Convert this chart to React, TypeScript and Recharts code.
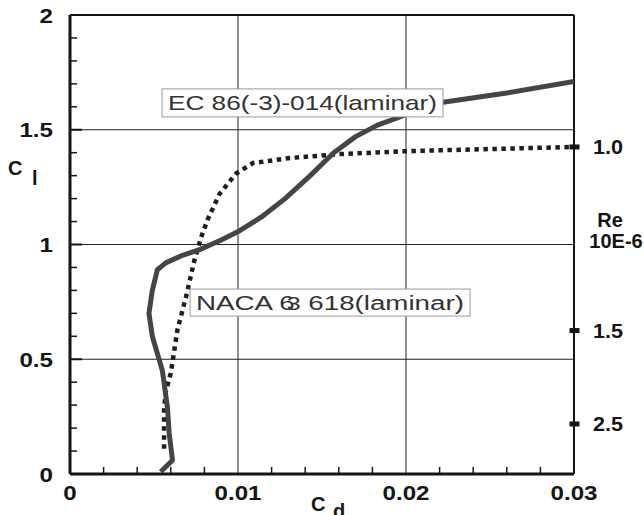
import React from "react";
import {
  ComposedChart,
  Line,
  XAxis,
  YAxis,
  ReferenceLine,
  ReferenceDot,
} from "recharts";

// EC 86(-3)-014 (solid)
const ecCd = [0.0054, 0.0061, 0.0059, 0.0058, 0.0055, 0.0049, 0.0047, 0.0049, 0.0052, 0.0057, 0.0066, 0.0078, 0.009, 0.0101, 0.0114, 0.0128, 0.0143, 0.0157, 0.017, 0.0183, 0.0198, 0.0222, 0.026, 0.03];
const ecCl = [0.01, 0.06, 0.18, 0.29, 0.45, 0.6, 0.7, 0.8, 0.89, 0.92, 0.95, 0.98, 1.02, 1.06, 1.12, 1.2, 1.3, 1.4, 1.47, 1.52, 1.56, 1.62, 1.66, 1.71];

// NACA 63-618 (dotted)
const nacaCd = [0.0056, 0.0056, 0.0056, 0.0057, 0.006, 0.0064, 0.0069, 0.0074, 0.0078, 0.0082, 0.0089, 0.0099, 0.0109, 0.0131, 0.0161, 0.0201, 0.03];
const nacaCl = [0.11, 0.2, 0.28, 0.36, 0.44, 0.63, 0.77, 0.93, 1.03, 1.11, 1.22, 1.31, 1.355, 1.377, 1.394, 1.407, 1.425];

const cdTicks = [0, 0.002, 0.004, 0.006, 0.008, 0.01, 0.012, 0.014, 0.016, 0.018, 0.02, 0.022, 0.024, 0.026, 0.028, 0.03];
const cdMajor = [0, 0.01, 0.02, 0.03];
const cdLabels = ["0", "0.01", "0.02", "0.03"];
const clTicks = [0, 0.1, 0.2, 0.3, 0.4, 0.5, 0.6, 0.7, 0.8, 0.9, 1, 1.1, 1.2, 1.3, 1.4, 1.5, 1.6, 1.7, 1.8, 1.9, 2];
const clMajor = [0, 0.5, 1, 1.5, 2];
const clLabels = ["0", "0.5", "1", "1.5", "2"];
// Reynolds number marks on the right edge (Cl where each curve is read)
const reCl = [1.425, 0.625, 0.218];
const reLabels = ["1.0", "1.5", "2.5"];

const ecData = ecCd.map((cd, i) => ({ cd, cl: ecCl[i] }));
const nacaData = nacaCd.map((cd, i) => ({ cd, cl: nacaCl[i] }));

const FONT = "'Liberation Sans', Arial, sans-serif";
const INK = "#151515";

const majorIndex = (arr: number[], v: number) =>
  arr.findIndex((m) => Math.abs(m - v) < 1e-9);

const BottomTick = (p: any) => {
  const i = majorIndex(cdMajor, p.payload.value);
  return (
    <g>
      {i < 0 && <line x1={p.x} x2={p.x} y1={p.y} y2={p.y - 7} stroke={INK} strokeWidth={1.5} />}
      {i >= 0 && (
        <g transform={`translate(${p.x},${p.y + 26}) scale(1.15,1)`}>
          <text textAnchor="middle" fontFamily={FONT} fontWeight="bold" fontSize={21} fill={INK}>
            {cdLabels[i]}
          </text>
        </g>
      )}
    </g>
  );
};

const LeftTick = (p: any) => {
  const i = majorIndex(clMajor, p.payload.value);
  return (
    <g>
      {i < 0 && <line x1={p.x} x2={p.x + 7} y1={p.y} y2={p.y} stroke={INK} strokeWidth={1.5} />}
      {i >= 0 && <line x1={p.x} x2={p.x + 12} y1={p.y} y2={p.y} stroke={INK} strokeWidth={2} />}
      {i >= 0 && (
        <g transform={`translate(${p.x - 17},${p.y + 7.5}) scale(1.15,1)`}>
          <text textAnchor="end" fontFamily={FONT} fontWeight="bold" fontSize={21} fill={INK}>
            {clLabels[i]}
          </text>
        </g>
      )}
    </g>
  );
};

const ReMark = (p: any) => (
  <rect x={p.cx - 4.5} y={p.cy - 2.5} width={10} height={5} fill={INK} />
);

const ReLabel = ({ viewBox, text }: any) => {
  const cx = viewBox.x + viewBox.width / 2;
  const cy = viewBox.y + viewBox.height / 2;
  return (
    <g transform={`translate(${cx + 19},${cy + 7.5}) scale(1.08,1)`}>
      <text fontFamily={FONT} fontWeight="bold" fontSize={20} fill={INK}>
        {text}
      </text>
    </g>
  );
};

const ReTitle = ({ viewBox }: any) => {
  const cx = viewBox.x + viewBox.width / 2;
  const cy = viewBox.y + viewBox.height / 2;
  return (
    <g fontFamily={FONT} fontWeight="bold" fill={INK} textAnchor="middle" fontSize={20}>
      <text x={cx + 36} y={cy - 18}>Re</text>
      <text x={cx + 42} y={cy + 3}>10E-6</text>
    </g>
  );
};

const BoxLabel = ({ viewBox, text, w, h }: any) => {
  const cx = viewBox.x + viewBox.width / 2;
  const cy = viewBox.y + viewBox.height / 2;
  return (
    <g>
      <rect x={cx - w / 2} y={cy - h / 2} width={w} height={h} fill="#fff" stroke="#9a9a9a" strokeWidth={1} />
      <text
        x={cx - w / 2 + 6}
        y={cy + 7.5}
        textLength={w - 12}
        lengthAdjust="spacingAndGlyphs"
        fontFamily={FONT}
        fontSize={21}
        fill="#333"
      >
        {text}
      </text>
    </g>
  );
};

const NacaLabel = ({ viewBox, w, h }: any) => {
  const cx = viewBox.x + viewBox.width / 2;
  const cy = viewBox.y + viewBox.height / 2;
  return (
    <g>
      <rect x={cx - w / 2} y={cy - h / 2} width={w} height={h} fill="#fff" stroke="#9a9a9a" strokeWidth={1} />
      <g transform={`translate(${cx - w / 2 + 6},${cy + 7.5}) scale(1.32,1)`}>
        <text fontFamily={FONT} fontSize={21} fill="#333">
          NACA 6<tspan dx={-6} fontSize={19}>3</tspan>
          <tspan>{"  618(laminar)"}</tspan>
        </text>
      </g>
    </g>
  );
};

const ClTitle = ({ viewBox }: any) => (
  <g fontFamily={FONT} fontWeight="bold" fill={INK}>
    <text x={viewBox.x - 2} y={viewBox.y + 160} fontSize={20}>C</text>
    <text x={viewBox.x + 22} y={viewBox.y + 170} fontSize={20}>l</text>
  </g>
);

const CdTitle = ({ viewBox }: any) => (
  <g fontFamily={FONT} fontWeight="bold" fill={INK}>
    <text x={viewBox.x + 241} y={viewBox.y + 37} fontSize={20}>C</text>
    <text x={viewBox.x + 263} y={viewBox.y + 44} fontSize={20}>d</text>
  </g>
);

export default function App() {
  return (
    <div style={{ position: "absolute", left: 0, top: 0, width: 644, height: 515, background: "#fff" }}>
      <ComposedChart width={644} height={515} margin={{ top: 15, right: 70, bottom: 0, left: 10 }}>
        <XAxis
          dataKey="cd"
          type="number"
          domain={[0, 0.03]}
          ticks={cdTicks}
          interval={0}
          height={41}
          tickSize={0}
          tickMargin={0}
          tick={BottomTick}
          axisLine={{ stroke: INK, strokeWidth: 3 }}
          allowDataOverflow
          label={<CdTitle />}
        />
        <YAxis
          yAxisId="cl"
          type="number"
          domain={[0, 2]}
          ticks={clTicks}
          interval={0}
          width={60}
          tickSize={0}
          tickMargin={0}
          tick={LeftTick}
          axisLine={{ stroke: INK, strokeWidth: 3 }}
          label={<ClTitle />}
        />
        {cdMajor.slice(1, 3).map((v) => (
          <ReferenceLine key={"x" + v} yAxisId="cl" x={v} stroke="#222" strokeWidth={1} />
        ))}
        {clMajor.slice(1, 4).map((v) => (
          <ReferenceLine key={"y" + v} yAxisId="cl" y={v} stroke="#222" strokeWidth={1} />
        ))}
        <ReferenceLine yAxisId="cl" y={2} stroke={INK} strokeWidth={2} />
        <ReferenceLine yAxisId="cl" x={0.03} stroke={INK} strokeWidth={2} />
        <Line
          yAxisId="cl"
          data={nacaData}
          dataKey="cl"
          type="linear"
          stroke="#1e1e1e"
          strokeWidth={4.5}
          strokeDasharray="4.5 4.5"
          dot={false}
          isAnimationActive={false}
        />
        <Line
          yAxisId="cl"
          data={ecData}
          dataKey="cl"
          type="linear"
          stroke="#454545"
          strokeWidth={5}
          strokeLinejoin="round"
          dot={false}
          isAnimationActive={false}
        />
        {reCl.map((v, i) => (
          <ReferenceDot
            key={"re" + i}
            yAxisId="cl"
            x={0.03}
            y={v}
            r={4}
            shape={ReMark}
            label={<ReLabel text={reLabels[i]} />}
          />
        ))}
        <ReferenceDot
          yAxisId="cl"
          x={0.03}
          y={1}
          r={1}
          fill="none"
          stroke="none"
          label={<ReTitle />}
        />
        <ReferenceDot
          yAxisId="cl"
          x={0.01384}
          y={1.617}
          r={1}
          fill="none"
          stroke="none"
          label={<BoxLabel text="EC 86(-3)-014(laminar)" w={281} h={28} />}
        />
        <ReferenceDot
          yAxisId="cl"
          x={0.01548}
          y={0.747}
          r={1}
          fill="none"
          stroke="none"
          label={<NacaLabel w={280} h={27} />}
        />
      </ComposedChart>
    </div>
  );
}
